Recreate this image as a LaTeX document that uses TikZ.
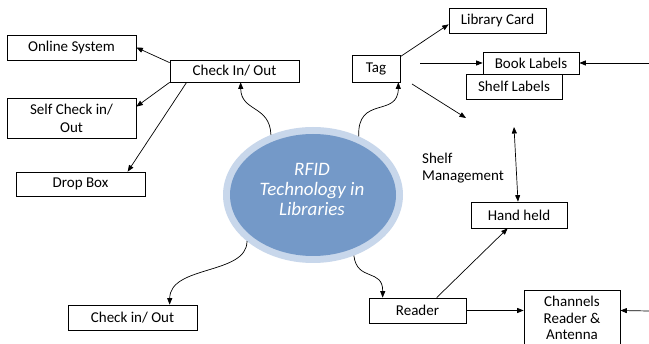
\documentclass[tikz,border=0pt]{standalone}
\usepackage{fontspec}
\setmainfont{Carlito}
\usetikzlibrary{arrows.meta,calc,shapes.geometric}

\definecolor{ringblue}{HTML}{C8D7EB}
\definecolor{coreblue}{HTML}{7499C8}

\tikzset{
  boxnode/.style={draw=black, line width=0.7pt, fill=white, inner sep=0pt,
    align=center, font=\fontsize{15}{18}\selectfont},
  plaintext/.style={inner sep=0pt, font=\fontsize{15}{16.5}\selectfont},
  link/.style={draw=black, line width=0.7pt, -{Triangle[length=6.5pt,width=5pt]}},
  twoway/.style={draw=black, line width=0.7pt,
    {Triangle[length=6.5pt,width=5pt]}-{Triangle[length=6.5pt,width=5pt]}},
}

\begin{document}
\begin{tikzpicture}[x=1pt, y=-1pt]
  \useasboundingbox (0,0) rectangle (649,344);
  \fill[white] (0,0) rectangle (649,344);

  % central ellipse with its light rim
  \node[ellipse, fill=ringblue, minimum width=180, minimum height=136,
        inner sep=0pt, outer sep=0pt] (rfid) at (313,195) {};
  \fill[coreblue] (rfid.center) ellipse [x radius=83pt, y radius=61pt];
  \node[align=center, text=white, inner sep=0pt,
        font=\fontsize{19}{20}\selectfont\itshape] (rfidtext) at (312,189)
        {RFID\\Technology in\\Libraries};

  % left branch
  \node[boxnode, minimum width=129, minimum height=25] (online) at (71.5,47.5) {Online System};
  \node[boxnode, minimum width=129, minimum height=22] (chk) at (234.5,71) {Check In/ Out};
  \node[boxnode, minimum width=129, minimum height=40] (self) at (71.5,118) {Self Check in/\\Out};
  \node[boxnode, minimum width=129, minimum height=24] (drop) at (80.5,184) {Drop Box};
  \node[boxnode, minimum width=129, minimum height=25] (chkb) at (132.5,317.5) {Check in/ Out};

  % tag branch
  \node[boxnode, minimum width=48, minimum height=27] (tag) at (376,68.5) {Tag};
  \node[boxnode, minimum width=97, minimum height=25] (card) at (497.5,20.5) {Library Card};
  \node[boxnode, minimum width=96, minimum height=25] (shelf) at (514,86.5) {Shelf Labels};
  \node[boxnode, minimum width=96, minimum height=22] (book) at (531,63) {Book Labels};
  \node[plaintext, anchor=west, align=left] (shelfmg) at (422,168) {Shelf\\Management};

  % reader branch
  \node[boxnode, minimum width=96, minimum height=26] (hand) at (519,215) {Hand held};
  \node[boxnode, minimum width=97, minimum height=25] (reader) at (417.5,310.5) {Reader};
  \node[boxnode, minimum width=96, minimum height=66, anchor=north] (chan) at (572,290) {};
  \node[plaintext, align=center] (chantext) at (572,318) {Channels\\Reader \&\\Antenna};

  % free ends
  \coordinate (tagout) at (412,84);
  \coordinate (shelfpt) at (466,118);
  \coordinate (bookleft) at (420,63);
  \coordinate (bookright) at (649,63);
  \coordinate (mgtop) at (514,127);
  \coordinate (chanright) at (649,311);

  % connectors from the centre
  \draw[link] (rfid.125.6) .. controls (270,105) and (241,112) .. ($(chk.south west)+(71,0)$);
  \draw[link] (rfid.52.8) .. controls (357,95) and (398,118) .. ($(tag.south east)+(-2,0)$);
  \draw[link] (rfid.215.5) .. controls (247,275) and (170,265) .. ($(chkb.north west)+(102,0)$);
  \draw[link] (rfid.-56) .. controls (357,282) and (383,268) .. ($(reader.north west)+(14,0)$);

  % check in/out fan
  \draw[link] ($(chk.north west)+(0,3)$) -- (online.east);
  \draw[link] (chk.south west) -- ($(self.north east)+(0,9)$);
  \draw[link] ($(chk.south west)+(17,0)$) -- ($(drop.north west)+(112,0)$);

  % tag fan
  \draw[link] ($(tag.north east)+(0,2)$) -- ($(card.south west)+(0,-9)$);
  \draw[link] (tagout) -- (shelfpt);
  \draw[link] (bookleft) -- (book.west);
  \draw[link] (bookright) -- (book.east);
  \draw[twoway] (mgtop) -- ($(hand.north)+(-1,0)$);

  % reader fan
  \draw[link] ($(reader.north west)+(68,0)$) -- ($(hand.south west)+(37,0)$);
  \draw[link] (reader.east) -- ($(chan.north west)+(0,20.5)$);
  \draw[link] (chanright) -- ($(chan.north east)+(0,20.5)$);
\end{tikzpicture}
\end{document}
